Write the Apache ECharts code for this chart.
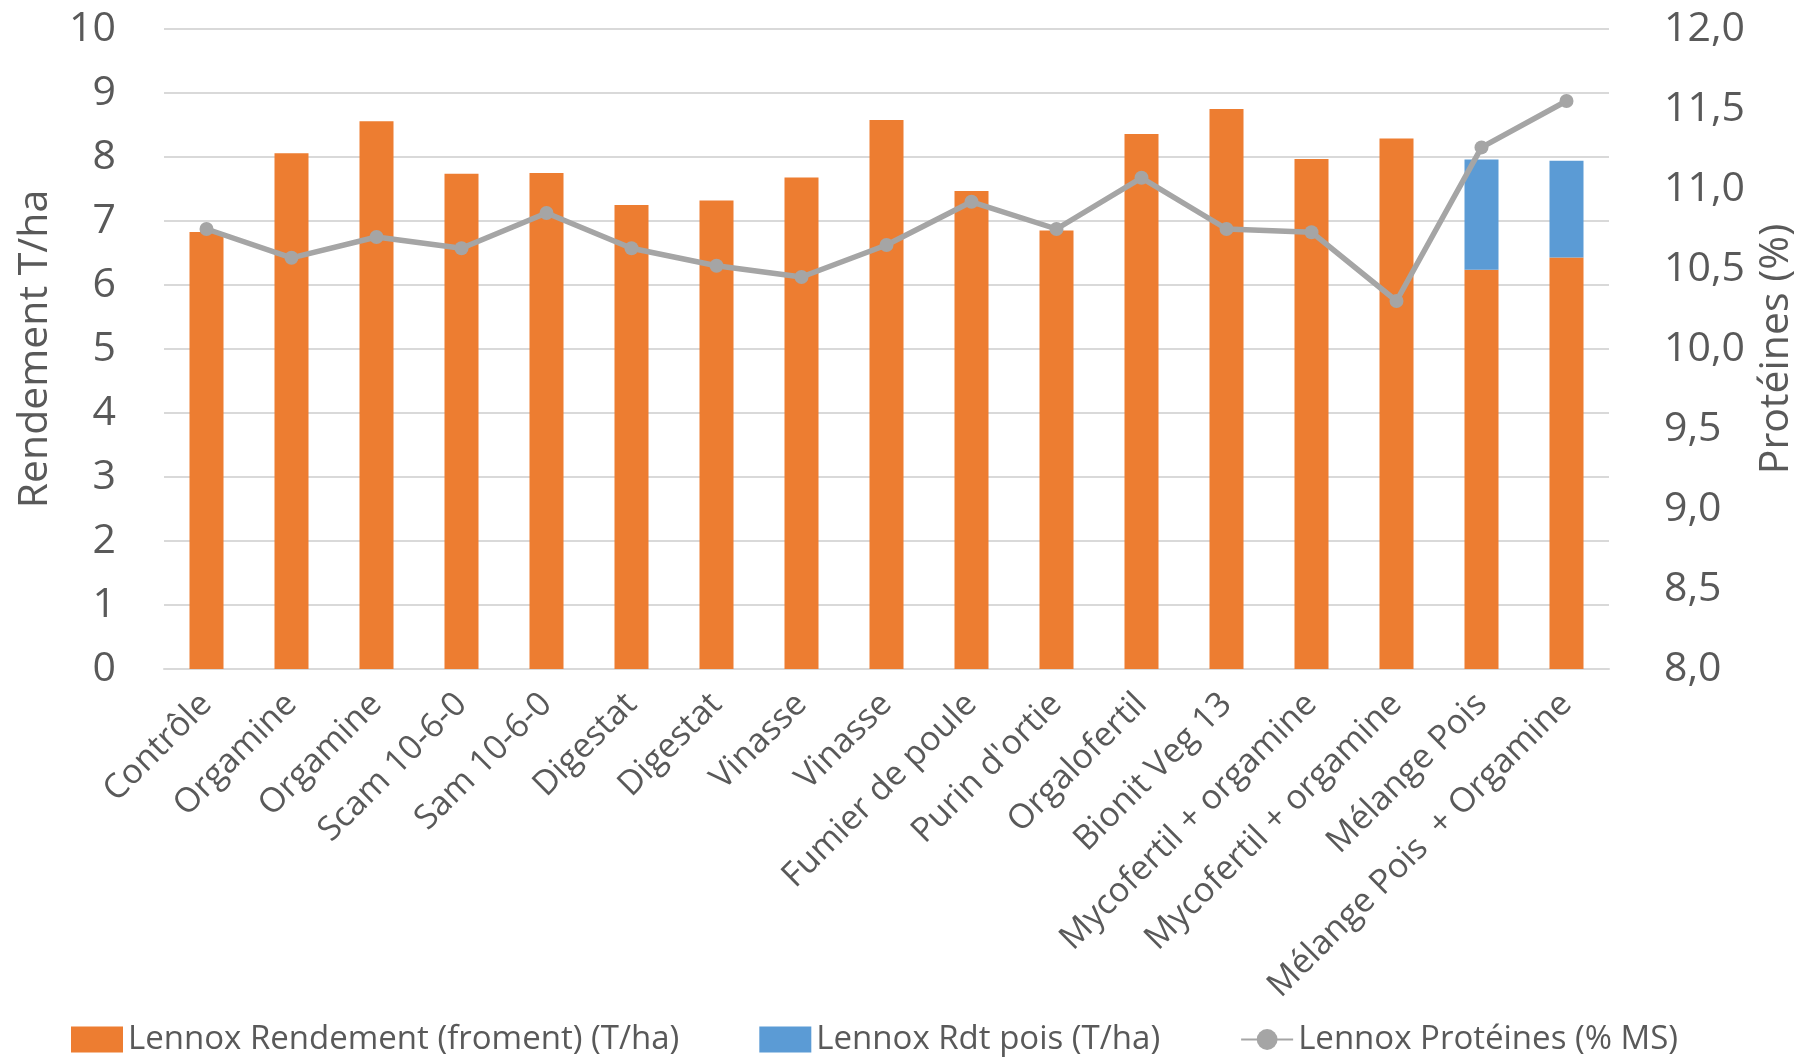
<!DOCTYPE html>
<html>
<head>
<meta charset="utf-8">
<script src="https://cdn.jsdelivr.net/npm/echarts@6/dist/echarts.min.js"></script>
<style>
  html, body { margin: 0; padding: 0; background: #fff; }
  #myChart { width: 1815px; height: 1061px; }
</style>
</head>
<body>
<div id="myChart"></div>
<script>
// categories (x axis)
const categories = ['Contrôle', 'Orgamine', 'Orgamine', 'Scam 10-6-0', 'Sam 10-6-0', 'Digestat', 'Digestat',
  'Vinasse', 'Vinasse', 'Fumier de poule', "Purin d'ortie", 'Orgalofertil', 'Bionit Veg 13',
  'Mycofertil + orgamine', 'Mycofertil + orgamine', 'Mélange Pois', 'Mélange Pois  + Orgamine'];

// rendement froment (T/ha)
const rdtFroment = [6.83, 8.06, 8.56, 7.74, 7.75, 7.25, 7.32, 7.68, 8.58, 7.47, 6.85, 8.36, 8.75, 7.97, 8.29, 6.24, 6.43];
// rendement pois (T/ha), seulement les mélanges
const rdtPois = [null, null, null, null, null, null, null, null, null, null, null, null, null, null, null, 1.72, 1.51];
// protéines (% MS)
const proteines = [10.75, 10.57, 10.70, 10.63, 10.85, 10.63, 10.52, 10.45, 10.65, 10.92, 10.75, 11.07, 10.75, 10.73, 10.30, 11.26, 11.55];

const legendNames = ['Lennox Rendement (froment) (T/ha)', 'Lennox Rdt pois (T/ha)', 'Lennox Protéines (% MS)'];

const textColor = '#595959';
const font = 'Open Sans';

let option = {
  animation: false,
  textStyle: { fontFamily: font },
  grid: { left: 164, right: 206, top: 29, bottom: 392, outerBoundsMode: 'none' },
  legend: {
    bottom: 0,
    left: 66,
    itemGap: 80,
    itemWidth: 52,
    itemHeight: 26,
    textStyle: { color: textColor, fontSize: 33, fontFamily: font },
    data: [
      { name: legendNames[0], icon: 'rect' },
      { name: legendNames[1], icon: 'rect' },
      { name: legendNames[2] }
    ]
  },
  xAxis: {
    type: 'category',
    data: categories,
    axisLine: { show: true, lineStyle: { color: '#D9D9D9', width: 2 } },
    axisTick: { show: false },
    axisLabel: {
      interval: 0,
      rotate: 45,
      margin: 30,
      color: textColor,
      fontSize: 34,
      fontFamily: font
    }
  },
  yAxis: [{
    type: 'value',
    name: 'Rendement T/ha',
    nameLocation: 'middle',
    nameGap: 108,
    nameRotate: 90,
    nameTextStyle: { color: textColor, fontSize: 41, fontFamily: font },
    min: 0,
    max: 10,
    interval: 1,
    axisLine: { show: false },
    axisTick: { show: false },
    axisLabel: { color: textColor, fontSize: 41, margin: 48, fontFamily: font },
    splitLine: { lineStyle: { color: '#D9D9D9', width: 2 } }
  }, {
    type: 'value',
    name: 'Protéines (%)',
    nameLocation: 'middle',
    nameGap: 143,
    nameRotate: 90,
    nameTextStyle: { color: textColor, fontSize: 41, fontFamily: font },
    min: 8,
    max: 12,
    interval: 0.5,
    axisLine: { show: false },
    axisTick: { show: false },
    axisLabel: {
      color: textColor,
      fontSize: 41,
      margin: 55,
      fontFamily: font,
      formatter: function (v) { return v.toFixed(1).replace('.', ','); }
    },
    splitLine: { show: false }
  }],
  series: [{
    name: legendNames[0],
    type: 'bar',
    stack: 'rdt',
    barWidth: '40%',
    itemStyle: { color: '#ED7D31' },
    data: rdtFroment
  }, {
    name: legendNames[1],
    type: 'bar',
    stack: 'rdt',
    barWidth: '40%',
    itemStyle: { color: '#5B9BD5' },
    data: rdtPois
  }, {
    name: legendNames[2],
    type: 'line',
    yAxisIndex: 1,
    symbol: 'circle',
    symbolSize: 14,
    lineStyle: { color: '#A5A5A5', width: 5.5 },
    itemStyle: { color: '#A5A5A5' },
    data: proteines
  }]
};

// 基于准备好的dom，初始化echarts实例
let myChart = echarts.init(document.getElementById('myChart'));
myChart.setOption(option);
</script>
</body>
</html>
